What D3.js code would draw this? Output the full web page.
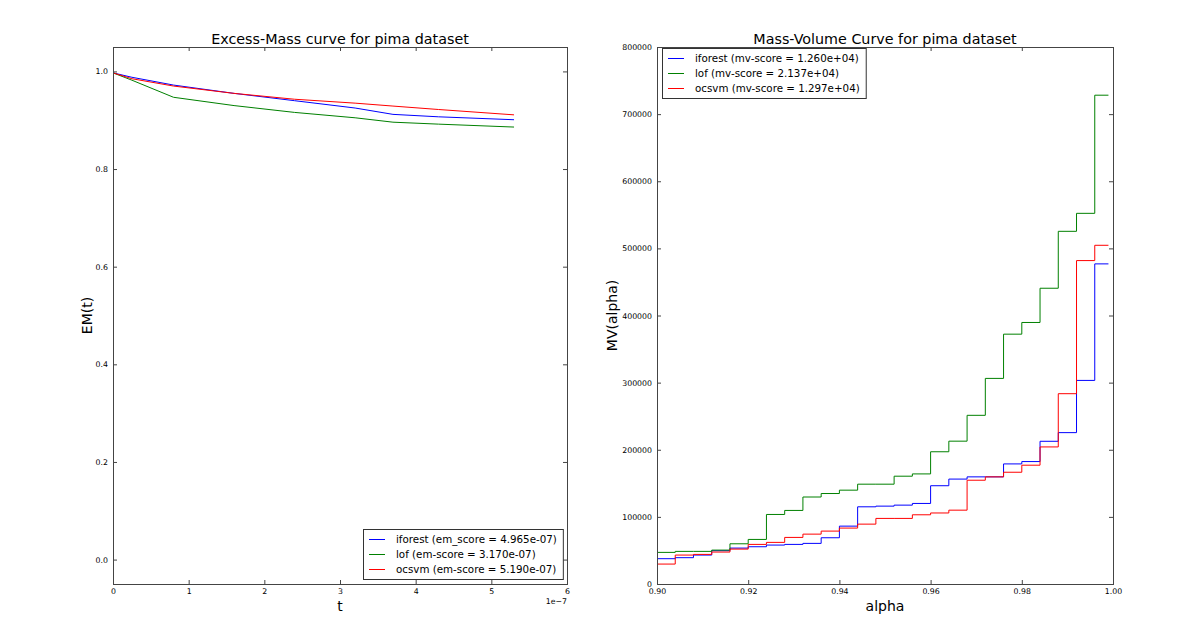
<!DOCTYPE html>
<html>
<head>
<meta charset="utf-8">
<script src="https://cdn.jsdelivr.net/npm/d3@7"></script>
<style>
  body { margin: 0; background: #fff; }
  text { font-family: "DejaVu Sans", sans-serif; fill: #000; }
</style>
</head>
<body>
<div id="chart"></div>
<script>
// ---- Excess-Mass data (t in units of 1e-7) ----
const emT = [0, 0.25, 0.8, 1.6, 2.4, 3.2, 3.7, 4.3, 5.3];
const emIforest = [0.997, 0.988, 0.972, 0.955, 0.940, 0.925, 0.912, 0.907, 0.901];
const emLof     = [0.997, 0.982, 0.947, 0.930, 0.916, 0.905, 0.896, 0.892, 0.886];
const emOcsvm   = [0.997, 0.985, 0.970, 0.955, 0.943, 0.935, 0.929, 0.922, 0.911];
const emLabels = [
    "iforest (em_score = 4.965e-07)",
    "lof (em-score = 3.170e-07)",
    "ocsvm (em-score = 5.190e-07)"
];
const emTicksX = [0, 1, 2, 3, 4, 5, 6];
const emTicksY = [0.0, 0.2, 0.4, 0.6, 0.8, 1.0];

// ---- Mass-Volume data (step levels, each held from alphaEdges[i] to alphaEdges[i+1]) ----
const alphaEdges = [0.900, 0.904, 0.908, 0.912, 0.916, 0.920, 0.924, 0.928, 0.932, 0.936,
    0.940, 0.944, 0.948, 0.952, 0.956, 0.960, 0.964, 0.968, 0.972, 0.976,
    0.980, 0.984, 0.988, 0.992, 0.996, 0.999];
const mvIforest = [37700, 39200, 43100, 49600, 53500, 55500, 58000, 59000, 60500, 68900,
    86200, 115000, 116000, 117500, 120000, 146400, 156300, 159600, 159600, 178900,
    182400, 212600, 225500, 303300, 476900];
const mvLof = [47100, 48600, 48600, 50500, 59900, 66400, 103600, 109600, 129600, 134800,
    139800, 148700, 148700, 160600, 164000, 197000, 212800, 251300, 306300, 372200,
    389600, 440600, 525400, 552200, 728200];
const mvOcsvm = [29700, 43100, 44100, 47600, 52000, 59000, 62000, 69400, 74300, 78800,
    83300, 89200, 97700, 97700, 103100, 105800, 110000, 154600, 159600, 166500,
    177000, 204200, 283500, 481800, 504600];
const mvLabels = [
    "iforest (mv-score = 1.260e+04)",
    "lof (mv-score = 2.137e+04)",
    "ocsvm (mv-score = 1.297e+04)"
];
const mvTicksX = [0.90, 0.92, 0.94, 0.96, 0.98, 1.00];
const mvTicksY = [0, 100000, 200000, 300000, 400000, 500000, 600000, 700000, 800000];

const colors = ["#0000ff", "#008000", "#ff0000"];

const width = 1196, height = 637;
const svg = d3.select("#chart").append("svg")
    .attr("width", width)
    .attr("height", height);

// draws a classic matplotlib-like box with inward ticks on all sides
function drawFrame(g, x, y, xTicks, yTicks, xFmt, yFmt) {
    const [x0, x1] = x.range();
    const [y0, y1] = y.range();
    const tickLen = 4;

    g.append("g")
        .attr("transform", `translate(0,${y0})`)
        .call(d3.axisBottom(x).tickValues(xTicks).tickFormat(xFmt).tickSizeInner(-tickLen).tickSizeOuter(0).tickPadding(4))
        .call(a => a.select(".domain").remove());
    g.append("g")
        .attr("transform", `translate(0,${y1})`)
        .call(d3.axisTop(x).tickValues(xTicks).tickFormat("").tickSizeInner(-tickLen).tickSizeOuter(0))
        .call(a => a.select(".domain").remove());
    g.append("g")
        .attr("transform", `translate(${x0},0)`)
        .call(d3.axisLeft(y).tickValues(yTicks).tickFormat(yFmt).tickSizeInner(-tickLen).tickSizeOuter(0).tickPadding(5))
        .call(a => a.select(".domain").remove());
    g.append("g")
        .attr("transform", `translate(${x1},0)`)
        .call(d3.axisRight(y).tickValues(yTicks).tickFormat("").tickSizeInner(-tickLen).tickSizeOuter(0))
        .call(a => a.select(".domain").remove());

    g.selectAll(".tick line").attr("stroke", "#444");
    g.selectAll(".tick text")
        .style("font-family", "'DejaVu Sans', sans-serif")
        .style("font-size", "7.8px")
        .attr("fill", "#222");

    g.append("rect")
        .attr("x", x0 + 0.5)
        .attr("y", y1 + 0.5)
        .attr("width", x1 - x0)
        .attr("height", y0 - y1)
        .attr("fill", "none")
        .attr("stroke", "#444")
        .attr("stroke-width", 1);
}

// legend box; corner "lr" anchors lower-right at (ax, ay), "ul" anchors upper-left
function drawLegend(g, labels, ax, ay, corner) {
    const rowH = 15;
    const leg = g.append("g");
    const box = leg.append("rect")
        .attr("fill", "#fff")
        .attr("stroke", "#333")
        .attr("stroke-width", 1);
    let maxW = 0;
    labels.forEach((lab, i) => {
        const cy = 10.5 + i * rowH;
        leg.append("line")
            .attr("x1", 6).attr("x2", 22)
            .attr("y1", cy).attr("y2", cy)
            .attr("stroke", colors[i])
            .attr("stroke-width", 1);
        const t = leg.append("text")
            .attr("x", 33)
            .attr("y", cy + 3.8)
            .style("font-size", "10.3px")
            .text(lab);
        maxW = Math.max(maxW, t.node().getComputedTextLength());
    });
    const w = 33 + maxW + 6, h = 50;
    box.attr("x", 0.5).attr("y", 0.5).attr("width", w).attr("height", h);
    const left = corner === "lr" ? ax - w : ax;
    const top = corner === "lr" ? ay - h : ay;
    leg.attr("transform", `translate(${Math.round(left)},${Math.round(top)})`);
}

// ---------------- left panel: Excess-Mass ----------------
const emX = d3.scaleLinear().domain([0, 6]).range([113, 567]);
const emY = d3.scaleLinear().domain([-0.05, 1.05]).range([584, 47]);
const gL = svg.append("g");

const emSeries = [emIforest, emLof, emOcsvm];
const emLine = d3.line()
    .x((d, i) => emX(emT[i]))
    .y(d => emY(d));
emSeries.forEach((s, i) => {
    gL.append("path")
        .datum(s)
        .attr("d", emLine)
        .attr("fill", "none")
        .attr("stroke", colors[i])
        .attr("stroke-width", 1);
});

drawFrame(gL, emX, emY, emTicksX, emTicksY, d3.format("d"), d3.format(".1f"));

gL.append("text")
    .attr("x", 567).attr("y", 604)
    .attr("text-anchor", "end")
    .style("font-size", "7.8px")
    .attr("fill", "#222")
    .text("1e\u22127");

gL.append("text")
    .attr("x", (113 + 567) / 2).attr("y", 44)
    .attr("text-anchor", "middle")
    .style("font-size", "14.3px")
    .text("Excess-Mass curve for pima dataset");
gL.append("text")
    .attr("x", (113 + 567) / 2).attr("y", 611)
    .attr("text-anchor", "middle")
    .style("font-size", "14px")
    .text("t");
gL.append("text")
    .attr("transform", `translate(92,${(47 + 584) / 2}) rotate(-90)`)
    .attr("text-anchor", "middle")
    .style("font-size", "14px")
    .text("EM(t)");

drawLegend(gL, emLabels, 563, 579, "lr");

// ---------------- right panel: Mass-Volume ----------------
const mvX = d3.scaleLinear().domain([0.90, 1.00]).range([657, 1113]);
const mvY = d3.scaleLinear().domain([0, 800000]).range([584, 47]);
const gR = svg.append("g");

const mvSeries = [mvIforest, mvLof, mvOcsvm];
const mvLine = d3.line()
    .x(d => mvX(d[0]))
    .y(d => mvY(d[1]))
    .curve(d3.curveStepAfter);
mvSeries.forEach((s, i) => {
    const pts = s.map((v, k) => [alphaEdges[k], v]);
    pts.push([alphaEdges[alphaEdges.length - 1], s[s.length - 1]]);
    gR.append("path")
        .datum(pts)
        .attr("d", mvLine)
        .attr("fill", "none")
        .attr("stroke", colors[i])
        .attr("stroke-width", 1);
});

drawFrame(gR, mvX, mvY, mvTicksX, mvTicksY, d3.format(".2f"), d3.format("d"));

gR.append("text")
    .attr("x", (657 + 1113) / 2).attr("y", 44)
    .attr("text-anchor", "middle")
    .style("font-size", "14.3px")
    .text("Mass-Volume Curve for pima dataset");
gR.append("text")
    .attr("x", (657 + 1113) / 2).attr("y", 611)
    .attr("text-anchor", "middle")
    .style("font-size", "14px")
    .text("alpha");
gR.append("text")
    .attr("transform", `translate(617,${(47 + 584) / 2}) rotate(-90)`)
    .attr("text-anchor", "middle")
    .style("font-size", "14px")
    .text("MV(alpha)");

drawLegend(gR, mvLabels, 662, 48, "ul");
</script>
</body>
</html>
